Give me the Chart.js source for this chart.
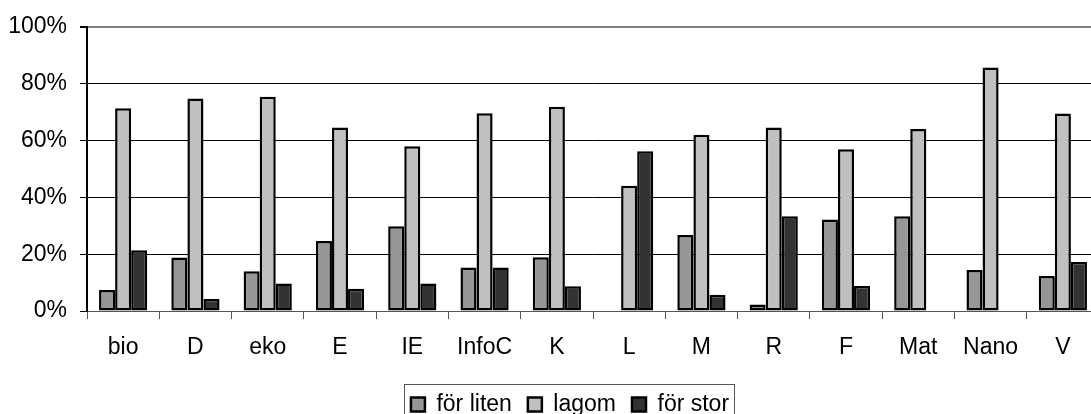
<!DOCTYPE html>
<html>
<head>
<meta charset="utf-8">
<script src="https://cdn.jsdelivr.net/npm/chart.js"></script>
<style>
  html, body { margin: 0; padding: 0; background: #fff; overflow: hidden; }
  canvas { display: block; }
</style>
</head>
<body>
<canvas id="myChart" width="1100" height="426"></canvas>
<script>
const categories = ["bio", "D", "eko", "E", "IE", "InfoC", "K", "L", "M", "R", "F", "Mat", "Nano", "V"];
const forLiten = [7.4, 18.8, 14.0, 24.6, 29.8, 15.3, 18.9, 0, 26.7, 2.3, 32.2, 33.3, 14.4, 12.3];
const lagom    = [71.3, 74.8, 75.4, 64.6, 58.0, 69.6, 71.9, 44.1, 62.0, 64.6, 56.9, 64.0, 85.7, 69.5];
const forStor  = [21.4, 4.2, 9.7, 7.8, 9.7, 15.3, 8.7, 56.2, 5.7, 33.3, 8.8, 0, 0, 17.2];
const yTicks = [0, 20, 40, 60, 80, 100];

const font = { family: "'Liberation Sans', Arial, sans-serif", size: 23 };

// legend sits a bit right of the canvas centre, and has a box round it
const legendBox = {
  id: "legendBox",
  afterLayout(chart) {
    chart.legend.left += 18;
    chart.legend.right += 18;
  },
  afterDraw(chart) {
    const boxes = chart.legend.legendHitBoxes;
    if (!boxes || !boxes.length) return;
    let left = Infinity, right = -Infinity, top = Infinity;
    boxes.forEach((b) => {
      left = Math.min(left, b.left);
      right = Math.max(right, b.left + b.width);
      top = Math.min(top, b.top);
    });
    const ctx = chart.ctx;
    ctx.save();
    ctx.strokeStyle = "#555";
    ctx.lineWidth = 1;
    ctx.strokeRect(Math.round(left - 7) + 0.5, Math.round(top - 9) + 0.5, Math.round(right - left + 12), 60);
    ctx.restore();
  },
};

const ds = (label, data, color) => ({
  label: label,
  data: data,
  backgroundColor: color,
  borderColor: "#000",
  borderWidth: 2.5,
  borderSkipped: false,
  categoryPercentage: 0.667,
  barPercentage: 1.0,
});

let myChart = new Chart(document.getElementById("myChart").getContext("2d"), {
  type: "bar",
  data: {
    labels: categories,
    datasets: [
      ds("för liten", forLiten, "#969696"),
      ds("lagom", lagom, "#C0C0C0"),
      ds("för stor", forStor, "#333333"),
    ],
  },
  options: {
    responsive: false,
    animation: false,
    devicePixelRatio: 1,
    layout: { padding: { top: 26, left: 5, right: 1, bottom: 0 } },
    plugins: {
      tooltip: { enabled: false },
      legend: {
        position: "bottom",
        labels: {
          font: font,
          color: "#000",
          boxWidth: 14,
          boxHeight: 14,
          padding: 16,
        },
      },
    },
    scales: {
      x: {
        afterFit: (s) => { s.height = 66; },
        grid: {
          offset: true,
          drawOnChartArea: false,
          drawTicks: true,
          tickLength: 8,
          color: "#555",
        },
        border: { color: "#555", width: 1 },
        ticks: { font: font, color: "#000", padding: 15, maxRotation: 0, autoSkip: false },
      },
      y: {
        min: 0,
        max: 100,
        afterFit: (s) => { s.width = 82; },
        afterBuildTicks: (s) => { s.ticks = yTicks.map((v) => ({ value: v })); },
        grid: {
          color: (c) => (c.tick && c.tick.value === 100 ? "#808080" : "#000"),
          lineWidth: (c) => (c.tick && c.tick.value === 100 ? 2 : 1),
          tickColor: "#000",
          tickLength: 7,
        },
        border: { color: "#000", width: 2 },
        ticks: {
          font: font,
          color: "#000",
          padding: 13,
          callback: (v) => v + "%",
        },
      },
    },
  },
  plugins: [legendBox],
});
</script>
</body>
</html>
